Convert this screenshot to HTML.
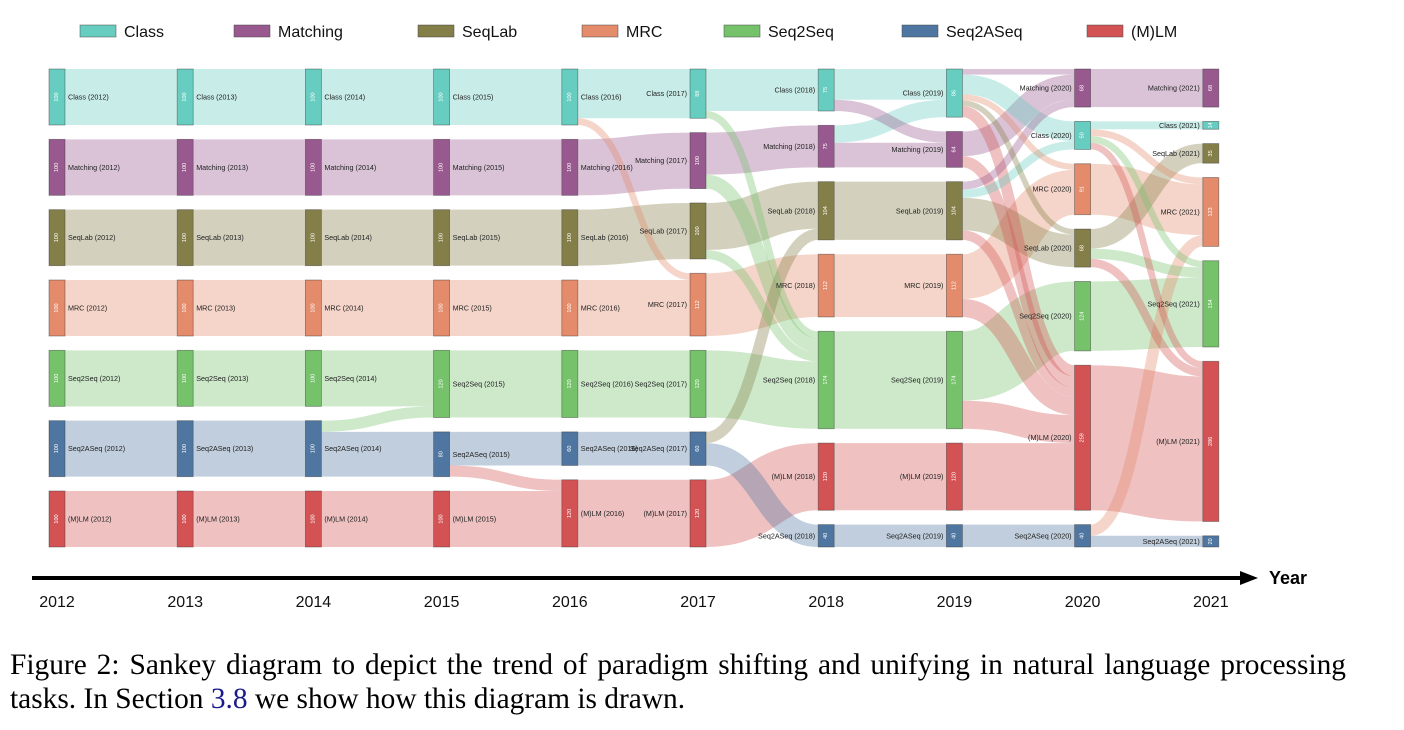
<!DOCTYPE html>
<html><head><meta charset="utf-8">
<style>
body{margin:0;background:#fff;width:1404px;height:730px;overflow:hidden;position:relative;font-family:"Liberation Sans",Arial,sans-serif}
svg{position:absolute;left:0;top:0}
.cap{position:absolute;left:10px;width:1336px;font-family:"Liberation Serif",serif;font-size:29.4px;color:#000;line-height:34px;white-space:nowrap}
</style></head><body>
<svg id="chart" width="1404" height="730"></svg>
<div class="cap" style="top:648px;text-align:justify;text-align-last:justify;white-space:normal">Figure 2: Sankey diagram to depict the trend of paradigm shifting and unifying in natural language processing</div>
<div class="cap" style="top:682px">tasks. In Section <span style="color:#1a1a8c">3.8</span> we show how this diagram is drawn.</div>
<script>
const categories=["Class","Matching","SeqLab","MRC","Seq2Seq","Seq2ASeq","(M)LM"];
const colors={"Class":"#66cdc0","Matching":"#98598f","SeqLab":"#847f48","MRC":"#e38b6a","Seq2Seq":"#75c26b","Seq2ASeq":"#4f76a0","(M)LM":"#d35354"};
const years=[2012,2013,2014,2015,2016,2017,2018,2019,2020,2021];
const initialValues=[100,100,100,100,100,100,100];
const columnOrder=[
["Class","Matching","SeqLab","MRC","Seq2Seq","Seq2ASeq","(M)LM"],
["Class","Matching","SeqLab","MRC","Seq2Seq","Seq2ASeq","(M)LM"],
["Class","Matching","SeqLab","MRC","Seq2Seq","Seq2ASeq","(M)LM"],
["Class","Matching","SeqLab","MRC","Seq2Seq","Seq2ASeq","(M)LM"],
["Class","Matching","SeqLab","MRC","Seq2Seq","Seq2ASeq","(M)LM"],
["Class","Matching","SeqLab","MRC","Seq2Seq","Seq2ASeq","(M)LM"],
["Class","Matching","SeqLab","MRC","Seq2Seq","(M)LM","Seq2ASeq"],
["Class","Matching","SeqLab","MRC","Seq2Seq","(M)LM","Seq2ASeq"],
["Matching","Class","MRC","SeqLab","Seq2Seq","(M)LM","Seq2ASeq"],
["Matching","Class","SeqLab","MRC","Seq2Seq","(M)LM","Seq2ASeq"]];
// links: [fromYearIndex, source, target, value]
const links=[
[0,"Class","Class",100],[0,"Matching","Matching",100],[0,"SeqLab","SeqLab",100],[0,"MRC","MRC",100],[0,"Seq2Seq","Seq2Seq",100],[0,"Seq2ASeq","Seq2ASeq",100],[0,"(M)LM","(M)LM",100],
[1,"Class","Class",100],[1,"Matching","Matching",100],[1,"SeqLab","SeqLab",100],[1,"MRC","MRC",100],[1,"Seq2Seq","Seq2Seq",100],[1,"Seq2ASeq","Seq2ASeq",100],[1,"(M)LM","(M)LM",100],
[2,"Class","Class",100],[2,"Matching","Matching",100],[2,"SeqLab","SeqLab",100],[2,"MRC","MRC",100],[2,"Seq2Seq","Seq2Seq",100],[2,"Seq2ASeq","Seq2Seq",20],[2,"Seq2ASeq","Seq2ASeq",80],[2,"(M)LM","(M)LM",100],
[3,"Class","Class",100],[3,"Matching","Matching",100],[3,"SeqLab","SeqLab",100],[3,"MRC","MRC",100],[3,"Seq2Seq","Seq2Seq",120],[3,"Seq2ASeq","Seq2ASeq",60],[3,"Seq2ASeq","(M)LM",20],[3,"(M)LM","(M)LM",100],
[4,"Class","Class",88],[4,"Class","MRC",12],[4,"Matching","Matching",100],[4,"SeqLab","SeqLab",100],[4,"MRC","MRC",100],[4,"Seq2Seq","Seq2Seq",120],[4,"Seq2ASeq","Seq2ASeq",60],[4,"(M)LM","(M)LM",120],
[5,"Class","Class",75],[5,"Class","Seq2Seq",13],[5,"Matching","Matching",75],[5,"Matching","Seq2Seq",25],[5,"SeqLab","SeqLab",84],[5,"SeqLab","Seq2Seq",16],[5,"MRC","MRC",112],[5,"Seq2Seq","Seq2Seq",120],[5,"Seq2ASeq","SeqLab",20],[5,"Seq2ASeq","Seq2ASeq",40],[5,"(M)LM","(M)LM",120],
[6,"Class","Class",55],[6,"Class","Matching",20],[6,"Matching","Class",31],[6,"Matching","Matching",44],[6,"SeqLab","SeqLab",104],[6,"MRC","MRC",112],[6,"Seq2Seq","Seq2Seq",174],[6,"(M)LM","(M)LM",120],[6,"Seq2ASeq","Seq2ASeq",40],
[7,"Class","Matching",10],[7,"Class","Class",35],[7,"Class","MRC",11],[7,"Class","SeqLab",10],[7,"Class","(M)LM",20],
[7,"Matching","Matching",44],[7,"Matching","(M)LM",20],
[7,"SeqLab","Matching",14],[7,"SeqLab","Class",15],[7,"SeqLab","SeqLab",58],[7,"SeqLab","(M)LM",17],
[7,"MRC","MRC",80],[7,"MRC","(M)LM",32],
[7,"Seq2Seq","Seq2Seq",124],[7,"Seq2Seq","(M)LM",50],
[7,"(M)LM","(M)LM",120],[7,"Seq2ASeq","Seq2ASeq",40],
[8,"Matching","Matching",68],
[8,"Class","Class",14],[8,"Class","MRC",12],[8,"Class","Seq2Seq",12],[8,"Class","(M)LM",12],
[8,"MRC","MRC",91],
[8,"SeqLab","SeqLab",35],[8,"SeqLab","Seq2Seq",18],[8,"SeqLab","(M)LM",15],
[8,"Seq2Seq","Seq2Seq",124],
[8,"(M)LM","(M)LM",259],
[8,"Seq2ASeq","Seq2ASeq",20],[8,"Seq2ASeq","MRC",20]];
const legendX=[80,234,418,582,724,902,1087];

const svgNS="http://www.w3.org/2000/svg";
const svg=document.getElementById('chart');
function mk(tag,attrs,parent){const e=document.createElementNS(svgNS,tag);for(const k in attrs)e.setAttribute(k,attrs[k]);(parent||svg).appendChild(e);return e;}
const top0=69,bottom0=547,k=0.56,nodeW=16;
function xCol(i){return 49+i*128.2;}
const nodes=years.map((y,i)=>{const m={};columnOrder[i].forEach(n=>m[n]={name:n,col:i,val:0,ins:[],outs:[]});return m;});
categories.forEach((c,j)=>nodes[0][c].val=initialValues[j]);
const L=links.map(l=>({c:l[0],s:nodes[l[0]][l[1]],t:nodes[l[0]+1][l[2]],v:l[3]}));
L.forEach(l=>{l.t.val+=l.v;l.s.outs.push(l);l.t.ins.push(l);});
nodes.forEach((m,i)=>{const ord=columnOrder[i];let tot=0;ord.forEach(n=>tot+=m[n].val);
 const gap=(bottom0-top0-tot*k)/(ord.length-1);let y=top0;
 ord.forEach(n=>{const nd=m[n];nd.y0=y;nd.y1=y+nd.val*k;nd.x0=xCol(i);y=nd.y1+gap;});});
nodes.forEach(m=>{for(const n in m){const nd=m[n];
 nd.outs.sort((a,b)=>a.t.y0-b.t.y0);let y=nd.y0;nd.outs.forEach(l=>{l.sy=y+l.v*k/2;y+=l.v*k;});
 nd.ins.sort((a,b)=>a.s.y0-b.s.y0);y=nd.y0;nd.ins.forEach(l=>{l.ty=y+l.v*k/2;y+=l.v*k;});}});
const gl=mk('g',{});
L.sort((a,b)=>b.v-a.v).forEach(l=>{
 const x0=l.s.x0+nodeW,x1=l.t.x0,xm=(x0+x1)/2;
 const p=mk('path',{d:`M${x0},${l.sy}C${xm},${l.sy} ${xm},${l.ty} ${x1},${l.ty}`,fill:'none',stroke:colors[l.t.name],'stroke-opacity':0.36,'stroke-width':Math.max(1,l.v*k)},gl);
 
 
});
const gn=mk('g',{});
nodes.forEach((m,i)=>{for(const n in m){const nd=m[n];const slug=n.toLowerCase().replace(/[()]/g,'');
 const r=mk('rect',{x:nd.x0,y:nd.y0,width:nodeW,height:nd.y1-nd.y0,fill:colors[n],stroke:'#333','stroke-opacity':0.5,'stroke-width':0.8},gn);
 
 
 const cy=(nd.y0+nd.y1)/2,cx=nd.x0+nodeW/2;
 const vt=mk('text',{x:cx,y:cy,transform:`rotate(-90 ${cx} ${cy})`,'text-anchor':'middle','dominant-baseline':'central','font-size':5.5,fill:'#fff'},gn);
 vt.textContent=nd.val;
 
 
 const right=i<5;
 const t=mk('text',{x:right?nd.x0+nodeW+3:nd.x0-3,y:cy,'text-anchor':right?'start':'end','dominant-baseline':'central','font-size':7.2,fill:'#222'},gn);
 t.textContent=n+' ('+years[i]+')';
 
 
}});
categories.forEach((c,j)=>{const g=mk('g',{});
 
 
 mk('rect',{x:legendX[j],y:25,width:36,height:12,fill:colors[c],stroke:'#444','stroke-opacity':0.6,'stroke-width':0.8},g);
 const t=mk('text',{x:legendX[j]+44,y:37,'font-size':16,fill:'#111'},g);t.textContent=c;});
const ax=mk('g',{});


mk('line',{x1:32,y1:578,x2:1244,y2:578,stroke:'#000','stroke-width':4},ax);
mk('polygon',{points:'1240,571 1258,578 1240,585',fill:'#000'},ax);
const yt=mk('text',{x:1269,y:584,'font-size':18,'font-weight':'bold',fill:'#000'},ax);yt.textContent='Year';


years.forEach((y,i)=>{const t=mk('text',{x:xCol(i)+8,y:607,'text-anchor':'middle','font-size':16,fill:'#111'},ax);t.textContent=y;
 
 });
</script>
</body></html>
